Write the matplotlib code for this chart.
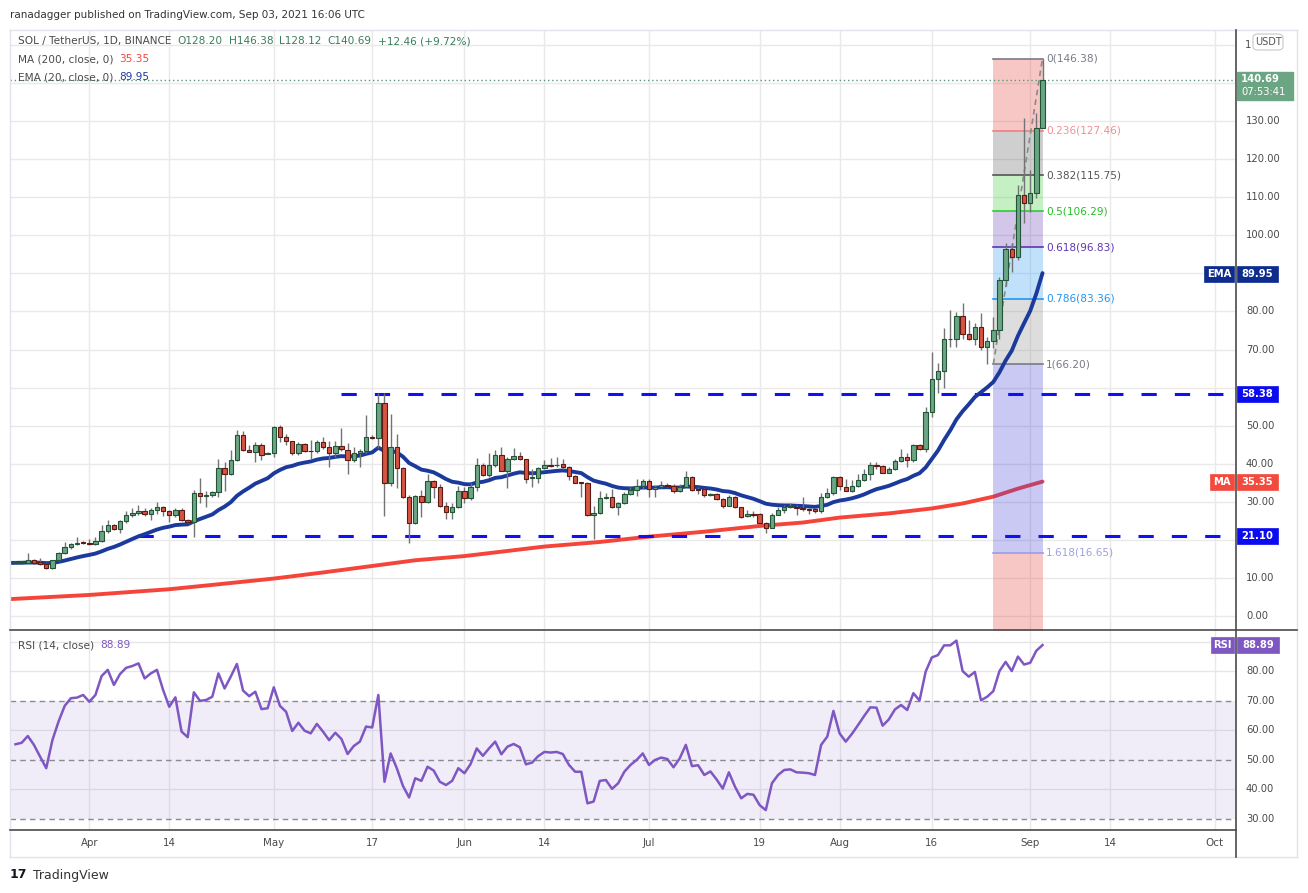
import matplotlib
matplotlib.use('Agg')
import matplotlib.pyplot as plt
import numpy as np
import pandas as pd
from matplotlib.patches import Rectangle, FancyBboxPatch
from matplotlib.lines import Line2D

plt.rcParams['font.family'] = ['DejaVu Sans']
plt.rcParams['lines.scale_dashes'] = False

W, H = 1308, 893

# ---------------- data ----------------
dates = pd.date_range('2021-03-20', '2021-09-03', freq='D')

opens = [14.0, 14.0, 14.1, 14.7, 14.2, 13.7, 12.8, 14.7, 16.6, 18.1,
         19.0, 19.4, 19.3, 19.1, 19.7, 22.5, 23.9, 23.0, 24.9, 26.5,
         27.0, 27.6, 26.8, 27.8, 28.7, 27.6, 26.5, 27.8, 25.2, 24.8,
         32.3, 31.6, 31.7, 32.5, 38.8, 37.4, 40.9, 47.5, 43.7, 43.2,
         44.9, 42.6, 42.8, 49.6, 47.0, 45.9, 42.8, 45.1, 43.5, 43.3,
         45.7, 44.4, 42.8, 44.6, 43.6, 41.1, 42.8, 43.5, 47.0, 46.7,
         56.1, 34.9, 44.4, 38.8, 31.2, 24.4, 31.5, 29.9, 35.4, 33.8,
         28.9, 27.3, 28.6, 32.8, 31.0, 34.0, 39.6, 37.2, 39.6, 42.2,
         38.2, 41.2, 42.0, 41.2, 36.2, 36.4, 38.8, 39.6, 39.6, 39.9,
         39.3, 36.8, 35.2, 35.1, 26.5, 27.0, 31.0, 31.2, 28.6, 29.7,
         32.0, 33.2, 34.2, 35.4, 33.3, 34.0, 34.5, 34.2, 32.8, 34.0,
         36.6, 33.3, 33.3, 31.8, 32.0, 30.8, 29.0, 31.4, 28.6, 26.3,
         26.8, 26.8, 24.4, 23.3, 26.7, 27.9, 28.6, 28.8, 28.3, 28.1,
         28.1, 27.7, 31.2, 32.3, 36.6, 34.0, 33.0, 34.2, 35.8, 37.4,
         39.6, 39.5, 37.7, 38.6, 40.7, 41.7, 41.0, 44.9, 44.0, 53.5,
         62.3, 64.3, 72.7, 72.9, 78.8, 74.0, 72.9, 75.9, 70.6, 72.2,
         75.1, 88.3, 96.3, 94.4, 110.5, 108.4, 111.0, 128.20]
highs = [14.6, 14.5, 16.6, 15.0, 15.2, 14.0, 14.9, 16.9, 19.4, 19.3,
         20.9, 19.8, 20.3, 20.9, 23.9, 25.4, 24.2, 25.2, 27.7, 28.3,
         29.2, 28.4, 28.5, 29.9, 29.0, 27.9, 28.3, 28.4, 25.5, 33.1,
         36.3, 32.9, 33.0, 41.3, 40.5, 43.6, 48.9, 48.6, 44.9, 45.7,
         45.4, 43.0, 49.9, 50.2, 47.9, 46.1, 45.8, 45.4, 46.3, 46.3,
         47.1, 46.0, 46.0, 49.3, 45.6, 44.5, 43.8, 52.8, 47.6, 58.5,
         58.5, 53.1, 47.9, 39.3, 31.8, 31.8, 33.2, 37.3, 35.8, 34.7,
         30.1, 29.8, 34.2, 34.0, 34.9, 41.5, 40.2, 42.8, 43.6, 44.3,
         41.7, 44.1, 43.0, 41.4, 38.6, 39.1, 41.0, 41.5, 41.7, 41.2,
         39.5, 37.2, 35.3, 35.3, 28.9, 32.9, 32.3, 33.3, 30.0, 32.6,
         34.0, 35.9, 36.1, 36.1, 34.4, 35.6, 34.9, 34.7, 34.7, 38.2,
         36.8, 33.8, 33.6, 32.4, 32.4, 31.0, 31.8, 31.6, 28.7, 27.9,
         27.7, 27.0, 24.8, 27.2, 28.8, 29.2, 29.6, 29.2, 31.4, 28.5,
         28.5, 32.3, 33.6, 36.9, 36.9, 35.9, 35.8, 37.4, 38.6, 40.5,
         40.6, 39.7, 39.3, 41.4, 43.8, 42.9, 45.3, 45.3, 55.0, 69.4,
         66.4, 75.6, 80.4, 79.9, 82.3, 77.8, 77.0, 79.5, 73.2, 78.5,
         89.0, 97.9, 97.9, 113.2, 130.7, 117.1, 132.0, 146.38]
lows = [13.8, 13.8, 14.0, 13.8, 13.5, 12.3, 12.3, 14.4, 16.3, 17.7,
        18.8, 18.9, 18.6, 18.7, 19.4, 21.9, 22.6, 21.8, 24.4, 26.0,
        26.7, 26.3, 25.4, 26.8, 26.3, 24.8, 26.0, 24.9, 24.6, 20.9,
        29.8, 28.8, 31.4, 31.4, 33.0, 37.1, 40.7, 43.4, 43.1, 40.6,
        41.0, 42.5, 41.9, 45.8, 44.9, 42.3, 42.3, 43.2, 41.2, 42.8,
        43.8, 39.1, 41.7, 43.5, 37.3, 40.6, 39.1, 42.9, 46.4, 44.1,
        26.4, 34.2, 33.6, 31.0, 19.2, 24.2, 26.0, 29.6, 31.0, 28.7,
        25.5, 25.5, 28.3, 29.8, 30.4, 33.0, 36.9, 36.6, 39.3, 38.0,
        33.6, 41.0, 41.0, 35.1, 34.0, 35.1, 38.6, 39.1, 39.3, 38.6,
        35.8, 34.9, 31.2, 26.3, 20.2, 26.8, 30.9, 28.4, 26.7, 29.5,
        31.7, 31.6, 33.5, 31.4, 31.4, 33.6, 33.8, 32.3, 32.5, 33.8,
        32.8, 32.1, 31.4, 31.6, 30.4, 28.3, 28.9, 28.5, 25.9, 26.0,
        26.0, 24.2, 21.9, 23.1, 26.6, 27.2, 28.4, 26.6, 27.7, 26.8,
        27.2, 27.2, 31.0, 31.9, 33.2, 32.9, 32.7, 34.0, 35.6, 35.8,
        38.7, 37.5, 37.5, 38.4, 40.5, 39.3, 40.6, 43.6, 43.2, 52.2,
        58.5, 59.8, 70.8, 70.8, 72.7, 72.5, 71.2, 69.9, 66.2, 70.3,
        72.8, 86.6, 90.4, 93.5, 103.1, 106.2, 109.7, 128.12]
closes = [14.2, 14.3, 14.7, 14.1, 13.7, 12.8, 14.7, 16.6, 18.1, 19.0,
          19.2, 19.2, 19.1, 19.8, 22.5, 23.9, 23.0, 24.9, 26.5, 27.1,
          27.6, 26.8, 27.8, 28.7, 27.6, 26.5, 27.8, 25.2, 24.8, 32.3,
          31.5, 31.7, 32.5, 38.8, 37.4, 40.9, 47.5, 43.7, 43.2, 44.9,
          42.4, 42.8, 49.6, 47.0, 45.9, 42.8, 45.1, 43.5, 43.3, 45.7,
          44.4, 42.8, 44.6, 43.8, 41.1, 42.8, 43.5, 47.0, 46.7, 56.1,
          34.9, 44.4, 38.8, 31.2, 24.4, 31.5, 29.9, 35.4, 33.8, 28.9,
          27.3, 28.6, 32.8, 31.0, 34.0, 39.6, 37.2, 39.6, 42.2, 38.2,
          41.2, 42.0, 41.2, 36.1, 36.5, 38.8, 39.6, 39.5, 39.8, 39.3,
          36.8, 35.1, 35.1, 26.5, 27.0, 31.0, 31.2, 28.6, 29.7, 32.0,
          33.2, 34.2, 35.4, 33.3, 34.0, 34.5, 34.2, 32.8, 34.0, 36.6,
          33.2, 33.2, 31.7, 32.0, 30.8, 29.0, 31.4, 28.6, 26.1, 26.8,
          26.6, 24.4, 23.3, 26.7, 27.9, 28.6, 28.9, 28.3, 28.1, 27.9,
          27.7, 31.2, 32.3, 36.6, 34.2, 33.0, 34.2, 35.8, 37.4, 39.6,
          39.5, 37.7, 38.6, 40.7, 41.7, 41.0, 44.9, 44.0, 53.5, 62.3,
          64.5, 72.7, 72.9, 78.8, 74.0, 72.9, 75.9, 70.6, 72.2, 75.1,
          88.3, 96.3, 94.4, 110.5, 108.4, 111.0, 128.2, 140.69]

rsi = [55.3, 55.8, 58.1, 55.1, 51.1, 47.2, 56.7, 63.0, 68.3, 70.9,
       71.1, 72.0, 69.7, 72.0, 78.4, 80.5, 75.4, 79.1, 81.2, 81.8,
       82.7, 77.6, 79.3, 80.5, 73.7, 68.0, 71.2, 59.6, 57.7, 72.9,
       70.0, 70.3, 71.4, 79.3, 74.2, 78.2, 82.5, 73.5, 71.6, 73.1,
       67.2, 67.5, 74.6, 68.3, 66.3, 59.8, 62.6, 59.9, 59.0, 62.2,
       59.6, 56.7, 59.2, 57.1, 52.0, 54.7, 56.2, 61.3, 61.0, 72.0,
       42.6, 52.2, 47.2, 41.2, 37.3, 43.8, 42.9, 47.7, 46.4, 42.6,
       41.5, 42.9, 47.2, 45.5, 48.6, 53.9, 51.4, 53.9, 56.2, 51.9,
       54.5, 55.4, 54.3, 48.5, 49.1, 51.3, 52.7, 52.5, 52.7, 52.0,
       48.3, 46.0, 46.0, 35.3, 35.9, 42.9, 43.2, 40.2, 42.1, 46.0,
       48.3, 50.0, 52.2, 48.3, 50.0, 50.8, 50.3, 47.5, 50.5, 55.1,
       47.9, 48.2, 44.9, 46.1, 43.4, 40.3, 45.8, 40.9, 37.0, 38.5,
       38.2, 34.7, 33.0, 42.1, 44.9, 46.6, 46.8, 45.8, 45.7, 45.5,
       44.9, 55.1, 57.9, 66.6, 59.0, 56.2, 58.8, 61.8, 64.9, 67.8,
       67.7, 61.6, 63.7, 67.1, 68.6, 66.9, 72.6, 70.1, 79.9, 84.7,
       85.5, 88.8, 88.8, 90.4, 80.1, 78.2, 79.8, 70.2, 71.4, 73.3,
       80.1, 83.2, 80.1, 85.0, 82.3, 82.9, 87.0, 88.89]

ma200_dates = ['2021-03-19', '2021-04-01', '2021-04-14', '2021-04-22', '2021-05-01',
               '2021-05-09', '2021-05-17', '2021-05-24', '2021-06-01', '2021-06-14',
               '2021-06-23', '2021-07-01', '2021-07-10', '2021-07-19', '2021-07-26',
               '2021-08-01', '2021-08-09', '2021-08-16', '2021-08-21', '2021-08-26',
               '2021-08-30', '2021-09-03']
ma200_vals = [4.5, 5.6, 7.1, 8.4, 9.9, 11.5, 13.2, 14.7, 15.8, 18.3,
              19.5, 20.9, 22.2, 23.7, 24.6, 25.9, 27.0, 28.3, 29.6, 31.4,
              33.5, 35.35]
ema_seed = 14.0          # EMA(20) value at left edge of the chart
ema_len = 20

fib_high, fib_low = 146.38, 66.20
fib_from, fib_to = '2021-08-26', '2021-09-03'
fib_levels = [0, 0.236, 0.382, 0.5, 0.618, 0.786, 1, 1.618, 2.618]

support_levels = [58.38, 21.10]
support_from = ['2021-05-12', '2021-04-09']

tick_dates = ['2021-04-01', '2021-04-14', '2021-05-01', '2021-05-17', '2021-06-01',
              '2021-06-14', '2021-07-01', '2021-07-19', '2021-08-01', '2021-08-16',
              '2021-09-01', '2021-09-14', '2021-10-01']
tick_labels = ['Apr', '14', 'May', '17', 'Jun', '14', 'Jul', '19', 'Aug', '16',
               'Sep', '14', 'Oct']
price_ticks = list(range(0, 160, 10))
price_labels_shown = [0, 10, 30, 40, 50, 70, 80, 100, 110, 120, 130]
rsi_ticks = [30, 40, 50, 60, 70, 80, 90]
rsi_labels_shown = [30, 40, 50, 60, 70, 80]

last_close = 140.69
ema_last, ma_last, rsi_last = 89.95, 35.35, 88.89

# ---------------- helpers ----------------
t0 = dates[0]
def dx(d):
    return (pd.Timestamp(d) - t0).days

x = np.arange(len(dates))
o = np.array(opens); h = np.array(highs); l = np.array(lows); c = np.array(closes)

ema = []
e = ema_seed
a = 2.0 / (ema_len + 1)
for v in closes:
    e = e + a * (v - e)
    ema.append(e)

fig = plt.figure(figsize=(W / 100, H / 100), dpi=100)
fig.patch.set_facecolor('white')

def fx(px):
    return px / W
def fy(py):
    return 1 - py / H

# axes
X0, X1 = 10, 1236
Y_TOP, Y_SEP, Y_BOT = 29.5, 630, 830
ax = fig.add_axes([fx(X0), fy(Y_SEP), (X1 - X0) / W, (Y_SEP - Y_TOP) / H])
axr = fig.add_axes([fx(X0), fy(Y_BOT), (X1 - X0) / W, (Y_BOT - Y_SEP - 1) / H])

xmin, xmax = -0.894, 198.46
for a_ in (ax, axr):
    a_.set_xlim(xmin, xmax)
    a_.set_facecolor('white')
    for s in a_.spines.values():
        s.set_visible(False)
    a_.set_xticks([])
    a_.set_yticks([])
    for td in tick_dates:
        a_.axvline(dx(td), color='#e9e9ea', lw=1, zorder=0)

ax.set_ylim(-3.6, 154.0)
axr.set_ylim(26.27, 93.66)

for p in price_ticks:
    ax.axhline(p, color='#e9e9ea', lw=1, zorder=0)

# MA 200
ax.plot([dx(d) for d in ma200_dates], ma200_vals, color='#f5453a', lw=2.8,
        zorder=1.5, solid_capstyle='round')

# Fib zones
fx0, fx1 = dx(fib_from), dx(fib_to)
rng = fib_high - fib_low
zone_cols = ['#e53935', '#555555', '#2ecc2e', '#5e35b1', '#2196f3', '#888888',
             '#3f3fd8', '#e53935']
for i in range(len(fib_levels) - 1):
    y1 = fib_high - fib_levels[i] * rng
    y2 = fib_high - fib_levels[i + 1] * rng
    ax.fill_between([fx0, fx1], y2, y1, color=zone_cols[i], alpha=0.28, lw=0, zorder=2)

line_cols = ['#787b86', '#f08080', '#555555', '#2ecc2e', '#5e35b1', '#2196f3',
             '#787b86', '#9c9ce6']
label_cols = ['#787b86', '#f09090', '#555555', '#22c022', '#5e35b1', '#2196f3',
              '#787b86', '#a0a0e0']
for lev, lc, tc in zip(fib_levels[:-1], line_cols, label_cols):
    yv = fib_high - lev * rng
    ax.plot([fx0, fx1], [yv, yv], color=lc, lw=1.2, zorder=2.2)
    levtxt = ('%g' % lev)
    ax.text(fx1 + 0.55, yv, '%s(%.2f)' % (levtxt, yv), color=tc, fontsize=7.6,
            va='center', ha='left', zorder=6)

# trend line
ax.plot([fx0, fx1], [fib_low, fib_high], color='#8a8a8a', lw=1.2,
        dashes=(4, 3), zorder=2.3)

# support lines
for lev, sd in zip(support_levels, support_from):
    ax.plot([dx(sd), xmax], [lev, lev], color='#1010f5', lw=2.2,
            dashes=(11, 13), zorder=2.5, solid_capstyle='butt',
            dash_capstyle='butt')

# EMA
ax.plot(np.concatenate([[-1], x]), [ema_seed] + ema, color='#1b3a9c', lw=2.8,
        zorder=3, solid_capstyle='round')

# candles
up = c >= o
ax.vlines(x, l, h, color='#737375', lw=1, zorder=3.8)
ax.bar(x[up], (c - o)[up], bottom=o[up], width=0.72, color='#6ba583',
       edgecolor='#225437', linewidth=0.8, zorder=4)
ax.bar(x[~up], (c - o)[~up], bottom=o[~up], width=0.72, color='#d75442',
       edgecolor='#5b1a13', linewidth=0.8, zorder=4)

# last price dotted line
ax.axhline(last_close, color='#5f9478', lw=1, ls=(0, (1, 2)), zorder=2.6)

# RSI pane
axr.fill_between([xmin, xmax], 30, 70, color='#7e57c2', alpha=0.1, lw=0, zorder=0.5)
for r_ in (40, 60, 80, 90):
    axr.axhline(r_, color='#e6e6e8', lw=1, zorder=0.4)
for r_ in (30, 50, 70):
    axr.axhline(r_, color='#8a8a90', lw=1, dashes=(4, 3), zorder=0.8)
axr.plot(x, rsi, color='#7e57c2', lw=1.8, zorder=3)

# ---------------- frame lines ----------------
def fline(xs, ys, col, lw):
    fig.add_artist(Line2D([fx(v) for v in xs], [fy(v) for v in ys], color=col,
                          lw=lw, transform=fig.transFigure, zorder=2))

fline([X0, 1297], [Y_TOP, Y_TOP], '#e0e3eb', 1)
fline([X0, X0], [Y_TOP, 857], '#e0e3eb', 1)
fline([1297, 1297], [Y_TOP, 857], '#e0e3eb', 1)
fline([X0, 1297], [857, 857], '#e0e3eb', 1)
fline([X0, 1297], [Y_SEP, Y_SEP], '#4a4a4a', 1.2)
fline([X0, X1], [Y_BOT, Y_BOT], '#4a4a4a', 1.2)
fline([X1, X1], [Y_TOP, 857], '#4a4a4a', 1.2)

# ---------------- axis labels ----------------
def ypix(axis, v):
    return H - axis.transData.transform((0, v))[1]
def xpix(axis, v):
    return axis.transData.transform((v, 0))[0]

for p in price_labels_shown:
    fig.text(fx(1246), fy(ypix(ax, p)), '%.2f' % p, fontsize=7.2, color='#4a4a4a',
             va='center', ha='left', zorder=3)
# top label is mostly hidden behind the currency badge: only its first digit shows
fig.text(fx(1244.5), fy(ypix(ax, 150)), '1', fontsize=7.2, color='#4a4a4a',
         va='center', ha='left', zorder=3)
for r_ in rsi_labels_shown:
    fig.text(fx(1246), fy(ypix(axr, r_)), '%.2f' % r_, fontsize=7.2, color='#4a4a4a',
             va='center', ha='left', zorder=3)
for td, tl in zip(tick_dates, tick_labels):
    fig.text(fx(xpix(ax, dx(td))), fy(843.5), tl, fontsize=7.4, color='#4a4a4a',
             va='center', ha='center', zorder=3)

# ---------------- value boxes ----------------
def box(x0, x1, yc, hgt, col, txt, tcol='white', size=7.2, weight='normal', rounded=False,
        ec=None):
    if rounded:
        p = FancyBboxPatch((fx(x0), fy(yc + hgt / 2)), (x1 - x0) / W, hgt / H,
                           boxstyle='round,pad=0,rounding_size=0.004',
                           transform=fig.transFigure, facecolor=col,
                           edgecolor=ec if ec else col, lw=0.8, zorder=5)
    else:
        p = Rectangle((fx(x0), fy(yc + hgt / 2)), (x1 - x0) / W, hgt / H,
                      transform=fig.transFigure, facecolor=col,
                      edgecolor=ec if ec else col, lw=0.5, zorder=5)
    fig.add_artist(p)
    fig.text(fx((x0 + x1) / 2), fy(yc), txt, fontsize=size, color=tcol,
             va='center', ha='center', fontweight=weight, zorder=6)

box(1253, 1283, 42, 16, 'white', 'USDT', tcol='#555555', size=7, rounded=True, ec='#c8c8cc')
p = Rectangle((fx(1237), fy(100)), 56 / W, (100 - 71.7) / H, transform=fig.transFigure,
              facecolor='#6ba583', edgecolor='#6ba583', zorder=5)
fig.add_artist(p)
fig.text(fx(1241), fy(79.5), '%.2f' % last_close, fontsize=7.2, color='white',
         va='center', ha='left', fontweight='bold', zorder=6)
fig.text(fx(1241), fy(92), '07:53:41', fontsize=7.2, color='white',
         va='center', ha='left', zorder=6)

for lev in support_levels:
    box(1237, 1278, ypix(ax, lev), 16, '#0b0bf0', '%.2f' % lev, weight='bold')
box(1204, 1234, ypix(ax, ema_last), 16, '#0d2c8e', 'EMA', weight='bold')
box(1237, 1278, ypix(ax, ema_last), 16, '#0d2c8e', '%.2f' % ema_last, weight='bold')
box(1210, 1234, ypix(ax, ma_last), 16, '#f24a3d', 'MA', weight='bold')
box(1237, 1278, ypix(ax, ma_last), 16, '#f24a3d', '%.2f' % ma_last, weight='bold')
box(1211, 1234, ypix(axr, rsi_last), 16, '#7e57c2', 'RSI', weight='bold')
box(1237, 1279, ypix(axr, rsi_last), 16, '#7e57c2', '%.2f' % rsi_last, weight='bold')

# ---------------- legend texts ----------------
fig.canvas.draw()
rend = fig.canvas.get_renderer()

def seg_row(xp, yp, parts, size=7.6):
    for txt, col in parts:
        t = fig.text(fx(xp), fy(yp), txt, color=col, fontsize=size, va='center',
                     ha='left', zorder=6)
        bb = t.get_window_extent(renderer=rend)
        xp += bb.width + 6

fig.text(fx(10), fy(15), 'ranadagger published on TradingView.com, Sep 03, 2021 16:06 UTC',
         fontsize=7.5, color='#333333', va='center', ha='left')
seg_row(18, 41, [('SOL / TetherUS, 1D, BINANCE', '#4a4a4a'),
                 ('O128.20', '#3b7d5c'), ('H146.38', '#3b7d5c'),
                 ('L128.12', '#3b7d5c'), ('C140.69', '#3b7d5c'),
                 ('+12.46 (+9.72%)', '#3b7d5c')])
seg_row(18, 59, [('MA (200, close, 0)', '#4a4a4a'), ('%.2f' % ma_last, '#f5453a')])
seg_row(18, 77, [('EMA (20, close, 0)', '#4a4a4a'), ('%.2f' % ema_last, '#1b3a9c')])
seg_row(18, 645, [('RSI (14, close)', '#4a4a4a'), ('%.2f' % rsi_last, '#7e57c2')])

# TradingView logo
fig.text(fx(10), fy(875), '17', fontsize=9, fontweight='bold', color='#131722',
         va='center', ha='left')
fig.text(fx(33), fy(875), 'TradingView', fontsize=9, color='#333333',
         va='center', ha='left')

fig.savefig('out.png', dpi=100)
